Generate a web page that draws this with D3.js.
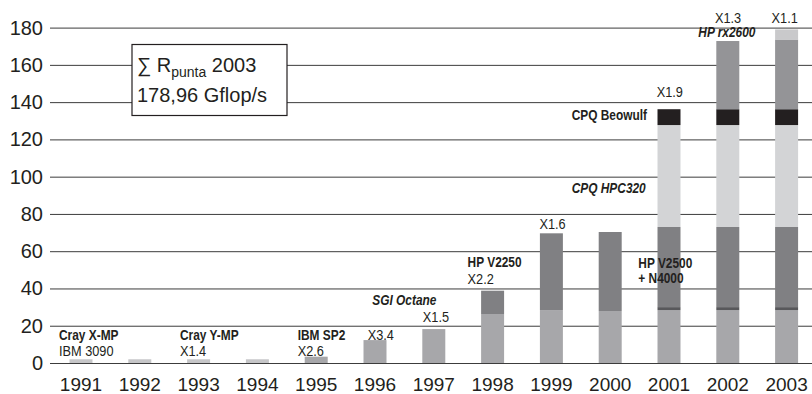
<!DOCTYPE html>
<html>
<head>
<meta charset="utf-8">
<script src="https://cdn.jsdelivr.net/npm/d3@7"></script>
<style>
  body { margin: 0; background: #fff; }
  svg { display: block; font-family: "Liberation Sans", Arial, sans-serif; }
</style>
</head>
<body>
<svg width="812" height="394"></svg>
<script>
const width = 812
const height = 394

// years on the x axis
const years = ['1991','1992','1993','1994','1995','1996','1997','1998','1999','2000','2001','2002','2003']
const yTicks = [0, 20, 40, 60, 80, 100, 120, 140, 160, 180]

// stacked pieces per year, bottom to top (Gflop/s)
const craySeries    = [2, 2, 2, 2, 0, 0, 0, 0, 0, 0, 0, 0, 0]
const baseSeries    = [0, 0, 0, 0, 3.4, 12.3, 18.2, 26.3, 28.4, 27.9, 28.4, 28.4, 28.4]
const n4000Series   = [0, 0, 0, 0, 0, 0, 0, 0, 0, 0, 1.6, 1.6, 1.6]
const hpSeries      = [0, 0, 0, 0, 0, 0, 0, 12.5, 41.2, 42.4, 43, 43, 43]
const hpc320Series  = [0, 0, 0, 0, 0, 0, 0, 0, 0, 0, 54.7, 54.7, 54.7]
const beowulfSeries = [0, 0, 0, 0, 0, 0, 0, 0, 0, 0, 8.5, 8.5, 8.5]
const rx2600Series  = [0, 0, 0, 0, 0, 0, 0, 0, 0, 0, 0, 36.6, 37.4]
const topSeries     = [0, 0, 0, 0, 0, 0, 0, 0, 0, 0, 0, 0, 5.4]

const keys = ['cray', 'base', 'n4000', 'hp', 'hpc320', 'beowulf', 'rx2600', 'top']
const colors = {
  cray: '#c6c6c8', base: '#a7a7aa', n4000: '#58585b', hp: '#808083',
  hpc320: '#d3d4d6', beowulf: '#231f20', rx2600: '#949497', top: '#c9c9cb'
}

// annotations: text, year, y value, dx, style
const notes = [
  ['Cray X-MP', '1991', 12.3, -22, 'b'],
  ['IBM 3090', '1991', 3.8, -22, 'r'],
  ['Cray Y-MP', '1993', 12.3, -18.6, 'b'],
  ['X1.4', '1993', 3.8, -18.6, 'r'],
  ['IBM SP2', '1995', 12.3, -18.5, 'b'],
  ['X2.6', '1995', 3.8, -18.5, 'r'],
  ['X3.4', '1996', 12.3, -7.3, 'r'],
  ['SGI Octane', '1996', 31.1, -2.7, 'bi'],
  ['X1.5', '1997', 21.8, -11, 'r'],
  ['HP V2250', '1998', 51.4, -25, 'b'],
  ['X2.2', '1998', 42.4, -25, 'r'],
  ['X1.6', '1999', 71.8, -12, 'r'],
  ['HP V2500', '2001', 50.8, -30.7, 'b'],
  ['+ N4000', '2001', 42.8, -30.7, 'b'],
  ['CPQ HPC320', '2001', 91.1, -97.3, 'bi'],
  ['CPQ Beowulf', '2001', 130.4, -97.3, 'b'],
  ['X1.9', '2001', 142.9, -12.3, 'r'],
  ['X1.3', '2002', 182.3, -12.8, 'r'],
  ['HP rx2600', '2002', 175.1, -29.5, 'bi'],
  ['X1.1', '2003', 182.3, -15, 'r']
]

const table = years.map((y, i) => ({
  year: y, cray: craySeries[i], base: baseSeries[i], n4000: n4000Series[i], hp: hpSeries[i],
  hpc320: hpc320Series[i], beowulf: beowulfSeries[i], rx2600: rx2600Series[i], top: topSeries[i]
}))

const x = d3.scaleBand().domain(years).range([51.6, 816]).paddingInner(0.609).paddingOuter(0.3045)
const y = d3.scaleLinear().domain([0, 180]).range([363, 27.6])

const svg = d3.select('svg')

// grid + y labels
const yAxis = svg.append('g')
  .attr('transform', `translate(${width},0)`)
  .call(d3.axisLeft(y).tickValues(yTicks).tickSize(width - 50).tickPadding(7))
yAxis.select('.domain').remove()
yAxis.selectAll('line').attr('stroke', '#3c3c3c').attr('stroke-width', 1)
yAxis.selectAll('text').attr('font-size', 20).attr('fill', '#231f20')
  .attr('font-family', '"Liberation Sans", Arial, sans-serif')

const xAxis = svg.append('g')
  .attr('transform', `translate(0,${y(0)})`)
  .call(d3.axisBottom(x).tickSize(0).tickPadding(15))
xAxis.select('.domain').remove()
xAxis.selectAll('text').attr('font-size', 19).attr('fill', '#231f20')
  .attr('font-family', '"Liberation Sans", Arial, sans-serif')

const stack = d3.stack().keys(keys)(table)

svg.append('g').selectAll('g')
  .data(stack)
  .enter().append('g')
  .attr('fill', d => colors[d.key])
  .selectAll('rect')
  .data(d => d.filter(p => p[1] - p[0] > 0))
  .enter().append('rect')
  .attr('x', d => x(d.data.year))
  .attr('width', x.bandwidth())
  .attr('y', d => y(d[1]))
  .attr('height', d => y(d[0]) - y(d[1]))

// annotations, narrow looking type
svg.append('g').selectAll('text')
  .data(notes)
  .enter().append('text')
  .attr('transform', d => `translate(${x(d[1]) + x.bandwidth() / 2 + d[3]},${y(d[2])}) scale(0.85,1)`)
  .attr('font-size', d => d[4] === 'r' ? 15 : 14)
  .attr('font-weight', d => d[4] === 'r' ? 'normal' : 'bold')
  .attr('font-style', d => d[4] === 'bi' ? 'italic' : 'normal')
  .attr('fill', '#231f20')
  .text(d => d[0])

// sum box
const box = svg.append('g')
box.append('rect')
  .attr('x', 132).attr('y', 44.5).attr('width', 155).attr('height', 71)
  .attr('fill', '#fff').attr('stroke', '#231f20').attr('stroke-width', 1.2)
const t1 = box.append('text').attr('x', 137).attr('y', 72).attr('font-size', 20).attr('fill', '#231f20')
t1.append('tspan').text('∑ R')
t1.append('tspan').attr('font-size', 14).attr('dy', 5).text('punta')
t1.append('tspan').attr('dy', -5).text(' 2003')
box.append('text').attr('x', 137).attr('y', 102).attr('font-size', 20).attr('fill', '#231f20')
  .text('178,96 Gflop/s')
</script>
</body>
</html>
